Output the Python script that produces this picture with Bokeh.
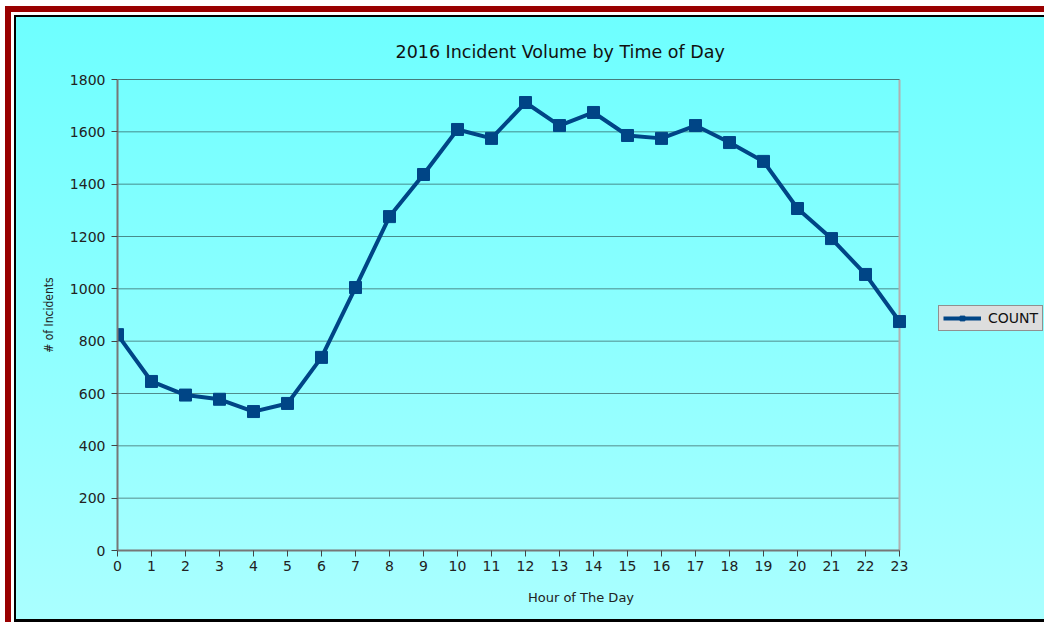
from bokeh.plotting import figure
from bokeh.models import Legend, LegendItem, FixedTicker, Range1d
from bokeh.embed import file_html
from bokeh.resources import INLINE

hours = list(range(24))
counts = [825, 646, 594, 578, 531, 562, 738, 1005, 1276, 1437, 1609, 1575,
          1712, 1624, 1674, 1586, 1575, 1624, 1559, 1487, 1307, 1192, 1055, 875]
y_ticks = [0, 200, 400, 600, 800, 1000, 1200, 1400, 1600, 1800]
title_text = "2016 Incident Volume by Time of Day"
x_label = "Hour of The Day"
y_label = "# of Incidents"
series_name = "COUNT"

W, H = 1044, 622
FL, FT, FR, FB = 117, 79, 899, 550  # plot-area edges on the page
x_min, x_max = hours[0], hours[-1]
y_min, y_max = y_ticks[0], y_ticks[-1]
# the frame is stretched to the right edge so the legend can sit inside it
x_end = x_min + (x_max - x_min) * (W - FL) / (FR - FL)

p = figure(width=W, height=H, output_backend="svg", toolbar_location=None,
           x_range=Range1d(x_min, x_end), y_range=Range1d(y_min, y_max),
           min_border_left=FL, min_border_right=0, min_border_top=FT,
           min_border_bottom=H - FB,
           styles={"background": "linear-gradient(to bottom, #6cffff 0%, #aaffff 100%)",
                   "box-shadow": "inset 5px 6px 0 0 #ffffff, inset 11px 12px 0 0 #990000, "
                                 "inset 14px 15px 0 0 #ffffff, inset 16px 17px 0 0 #000000, "
                                 "inset 0 -3px 0 0 #000000"})
p.border_fill_alpha = 0
p.background_fill_alpha = 0
p.outline_line_color = None
p.xgrid.grid_line_color = None
p.ygrid.grid_line_color = None

# horizontal grid lines and right edge of the plot area
p.segment(x0=[x_min] * len(y_ticks), x1=[x_max] * len(y_ticks), y0=y_ticks, y1=y_ticks,
          line_color="#000000", line_alpha=0.45, line_width=1)
p.segment(x0=[x_max], x1=[x_max], y0=[y_min], y1=[y_max], line_color="#b0b0b0", line_width=2)
p.segment(x0=[x_min], x1=[x_max], y0=[y_max], y1=[y_max], line_color="#333333", line_width=1)

line_color = "#004586"
r_line = p.line(hours, counts, line_color=line_color, line_width=4)
r_mark = p.scatter(hours, counts, marker="square", size=12, fill_color=line_color,
                   line_color=line_color)

# title
p.title.text = title_text
p.title.align = "left"
p.title.offset = 395 - FL
p.title.text_font = "DejaVu Sans"
p.title.text_font_size = "17.5px"
p.title.text_font_style = "normal"
p.title.text_color = "#111111"
p.title.standoff = 36

# axes
p.xaxis.ticker = FixedTicker(ticks=hours)
p.yaxis.ticker = FixedTicker(ticks=y_ticks)
p.xaxis.bounds = (x_min, x_max)
for ax in (p.xaxis[0], p.yaxis[0]):
    ax.major_label_text_font = "DejaVu Sans"
    ax.major_label_text_font_size = "14px"
    ax.major_label_text_color = "#222222"
    ax.axis_line_color = "#777777"
    ax.axis_line_width = 2
    ax.major_tick_line_color = "#444444"
    ax.major_tick_in = 0
    ax.major_tick_out = 6
    ax.minor_tick_line_color = None
    ax.axis_label_text_font_style = "normal"
    ax.axis_label_text_color = "#222222"

p.xaxis.axis_label = x_label
p.xaxis.axis_label_text_font = "DejaVu Sans"
p.xaxis.axis_label_text_font_size = "13px"
p.xaxis.axis_label_standoff = 16
p.xaxis.major_label_standoff = 4

p.yaxis.axis_label = y_label
p.yaxis.axis_label_text_font = "Liberation Sans Narrow, DejaVu Sans Condensed, Liberation Sans"
p.yaxis.axis_label_text_font_size = "12px"
p.yaxis.axis_label_standoff = 11
p.yaxis.major_label_standoff = 6

legend = Legend(items=[LegendItem(label=series_name, renderers=[r_line, r_mark])],
                location=(938 - FL, FB - 331),
                background_fill_color="#dddddd", background_fill_alpha=1,
                border_line_color="#444444", border_line_width=1,
                label_text_font="DejaVu Sans", label_text_font_size="14px",
                label_text_color="#111111",
                glyph_width=38, glyph_height=12, padding=4, margin=0, spacing=0,
                label_standoff=7, label_height=14)
p.add_layout(legend)

open("out.html", "w").write(file_html(p, INLINE))
